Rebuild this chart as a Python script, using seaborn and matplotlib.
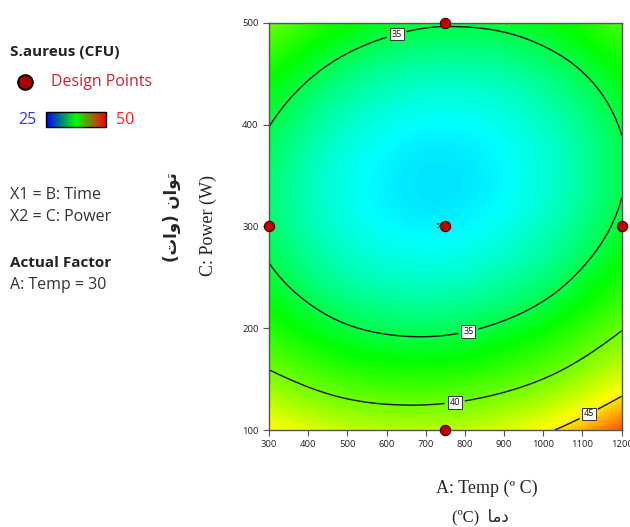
import numpy as np
import pandas as pd
import seaborn as sns
import matplotlib.pyplot as plt
import matplotlib.tri as mtri
from matplotlib.colors import LinearSegmentedColormap
from matplotlib.patches import Rectangle

# grid: columns = temp, rows = power
temp = [300, 450, 600, 750, 900, 1050, 1200]
power = [100, 150, 200, 250, 300, 350, 400, 450, 500]
cfu = [
    [44.78, 43.07, 42.27, 42.38, 43.40, 45.34, 48.18],
    [40.66, 38.86, 37.97, 37.99, 38.92, 40.76, 43.51],
    [37.54, 35.64, 34.66, 34.59, 35.43, 37.18, 39.84],
    [35.42, 33.43, 32.36, 32.20, 32.94, 34.60, 37.17],
    [34.30, 32.22, 31.06, 30.80, 31.46, 33.02, 35.50],
    [34.18, 32.01, 30.75, 30.41, 30.97, 32.44, 34.83],
    [35.06, 32.80, 31.45, 31.01, 31.48, 32.87, 35.16],
    [36.94, 34.59, 33.15, 32.62, 33.00, 34.29, 36.49],
    [39.82, 37.37, 35.84, 35.22, 35.51, 36.71, 38.82],
]
levels = [35, 40, 45]
x_ticks = [300, 400, 500, 600, 700, 800, 900, 1000, 1100, 1200]
y_ticks = [100, 200, 300, 400, 500]

design = pd.DataFrame({'temp': [750, 300, 750, 1200, 750],
                       'power': [500, 300, 300, 300, 100]})

# arabic labels, pre-shaped and in visual order
ar_power = '(\uFE95\uFE8D\uFEED) \uFEE5\uFE8D\uFEEE\uFE97'
ar_temp = '(\u00baC)  \uFE8E\uFEE3\uFEA9'

sns.set_style('white')
plt.rcParams['font.family'] = ['Open Sans', 'DejaVu Sans']

cmap = LinearSegmentedColormap.from_list(
    'de', [(0.0, '#0000ff'), (0.24, '#00ffff'), (0.46, '#00ff00'),
           (0.78, '#ffff00'), (1.0, '#ff0000')])
legend_cmap = LinearSegmentedColormap.from_list(
    'leg', ['#0000ff', '#00ff00', '#ff0000'])

fig = plt.figure(figsize=(6.3, 5.27), dpi=100)

# overlay in pixel coords for the side texts
ax0 = fig.add_axes([0, 0, 1, 1])
ax0.axis('off')
ax0.imshow(np.linspace(0, 1, 200)[None, :], extent=[46, 106, 127, 112],
           cmap=legend_cmap, aspect='auto')
ax0.add_patch(Rectangle((46, 112), 60, 15, fill=False, ec='black', lw=1))
ax0.set_xlim(0, 630)
ax0.set_ylim(527, 0)
fs = 11.5
ax0.text(10, 52, 'S.aureus (CFU)', fontsize=11, weight='bold', va='center', color='#222222')
ax0.scatter([25], [82], s=110, c='#b00000', edgecolors='black', linewidths=1.5)
ax0.text(51, 82, 'Design Points', fontsize=fs, va='center', color='#d0202a')
ax0.text(18, 120, '25', fontsize=fs, va='center', color='#3030ff')
ax0.text(116, 120, '50', fontsize=fs, va='center', color='#ff2020')
ax0.text(10, 195, 'X1 = B: Time', fontsize=fs, va='center', color='#333333')
ax0.text(10, 217, 'X2 = C: Power', fontsize=fs, va='center', color='#333333')
ax0.text(10, 263, 'Actual Factor', fontsize=11, weight='bold', va='center', color='#222222')
ax0.text(10, 285, 'A: Temp = 30', fontsize=fs, va='center', color='#333333')

serif = ['Liberation Serif', 'DejaVu Sans']
ax0.text(487, 488, 'A: Temp (\u00ba C)', family=serif, fontsize=13, ha='center', va='center')
ax0.text(480, 517, ar_temp, family=serif, fontsize=12, ha='center', va='center')
ax0.text(208, 225, 'C: Power (W)', family=serif, fontsize=13, rotation=90, ha='center', va='center')
ax0.text(172, 217, ar_power, family=['DejaVu Sans'], fontsize=12, rotation=90,
         ha='center', va='center', weight='bold')

ax = fig.add_axes([0.427, 0.184, 0.5598, 0.773])

xx, yy = np.meshgrid(temp, power)
z = np.array(cfu).ravel()
# triangulate in coded units so the cubic refinement is isotropic
tri_c = mtri.Triangulation((xx.ravel() - 750) / 450, (yy.ravel() - 300) / 200)
tri_f, z_f = mtri.UniformTriRefiner(tri_c).refine_field(z, subdiv=4)
tri_p = mtri.Triangulation(tri_f.x * 450 + 750, tri_f.y * 200 + 300, tri_f.triangles)

ax.tripcolor(tri_p, z_f, shading='gouraud', cmap=cmap, vmin=25, vmax=50)
cs = ax.tricontour(tri_p, z_f, levels=levels, colors='#111111', linewidths=1)
lbls = ax.clabel(cs, fmt='%d', fontsize=6.5, inline=True,
                 manual=[(621, 495), (807, 200), (772, 133), (1109, 121)])
for t in lbls:
    t.set_rotation(0)
    t.set_bbox(dict(boxstyle='square,pad=0.2', fc='white', ec='#333333', lw=0.7))

sns.scatterplot(data=design, x='temp', y='power', s=55, color='#c00000',
                edgecolor='#400000', linewidth=0.8, ax=ax, clip_on=False, zorder=5)
ax.text(736, 300, '5', fontsize=5.5, ha='right', va='center')

ax.set_xlim(300, 1200)
ax.set_ylim(100, 500)
ax.set_xticks(x_ticks)
ax.set_yticks(y_ticks)
ax.set_xlabel('')
ax.set_ylabel('')
ax.tick_params(axis='both', direction='out', length=4, width=0.8, color='#555555',
               labelsize=6.8, labelcolor='#222222', bottom=True, left=True)
for s in ax.spines.values():
    s.set_color('#555555')
    s.set_linewidth(1)

fig.savefig('out.png', dpi=100)
